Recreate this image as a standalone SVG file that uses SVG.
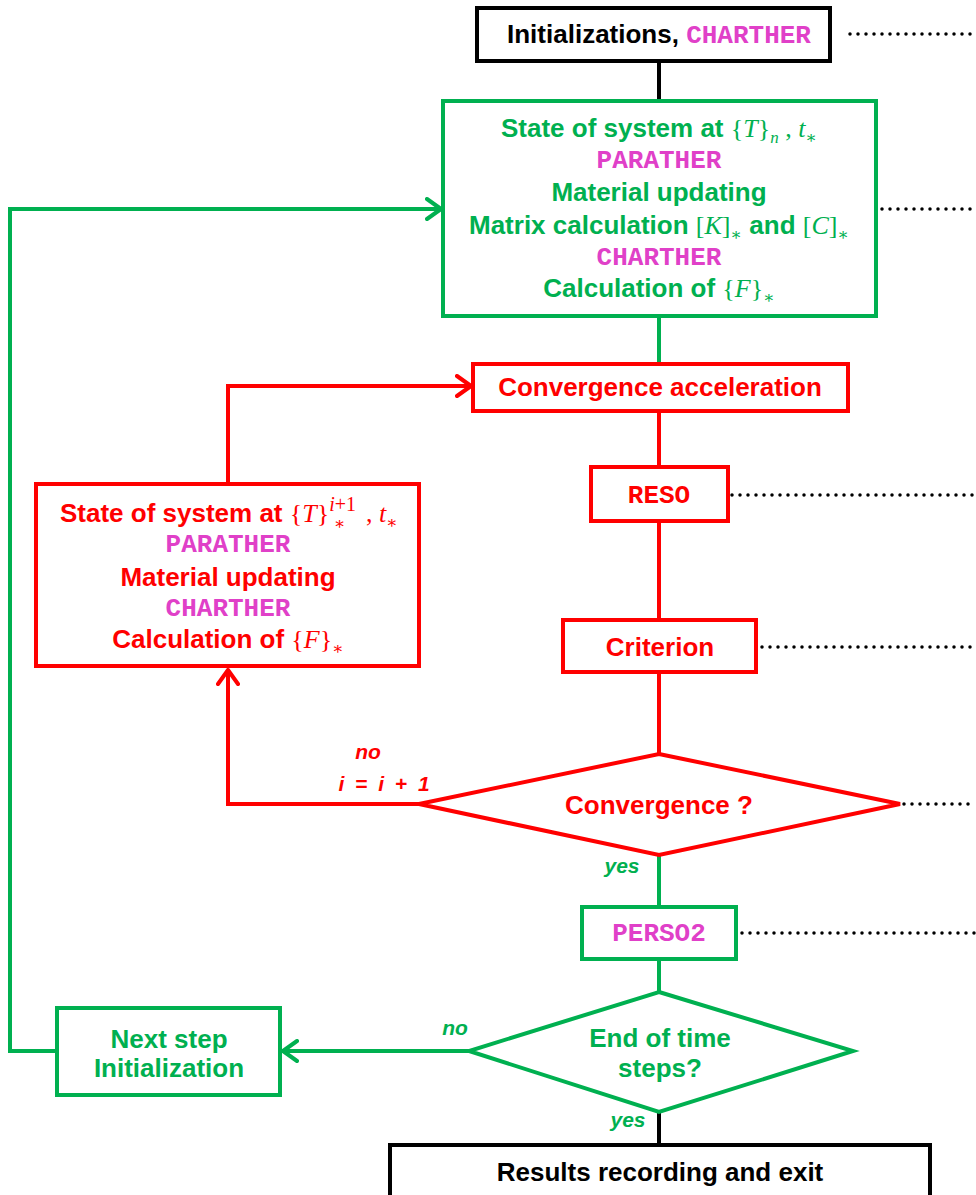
<svg xmlns="http://www.w3.org/2000/svg" width="976" height="1195" viewBox="0 0 976 1195">
<style>
.t{font-family:"Liberation Sans",Arial,sans-serif;font-weight:bold;font-size:26px;text-anchor:middle}
.mono{font-family:"Liberation Mono","Courier New",monospace;font-weight:bold;font-size:26px;fill:#E040C8}
.m{font-family:"Liberation Serif","DejaVu Serif",serif;font-weight:normal}
.i{font-style:italic}
.s{font-size:17px}
.s2{font-size:20px}
.lab{font-family:"Liberation Sans",Arial,sans-serif;font-weight:bold;font-style:italic;font-size:21px}
.g{fill:#00B050}.r{fill:#FF0000}.k{fill:#000}
.bg{fill:#fff;stroke:#00B050;stroke-width:4}
.br{fill:#fff;stroke:#FF0000;stroke-width:4}
.bk{fill:#fff;stroke:#000;stroke-width:4}
.cg{fill:none;stroke:#00B050;stroke-width:4}
.cr{fill:none;stroke:#FF0000;stroke-width:4}
.ck{fill:none;stroke:#000;stroke-width:4}
.dot{fill:none;stroke:#000;stroke-width:3.5;stroke-dasharray:0 8;stroke-linecap:round}
</style>
<defs>
<marker id="ag" viewBox="-16 -12 18 24" refX="0" refY="0" markerWidth="18" markerHeight="24" markerUnits="userSpaceOnUse" orient="auto"><path d="M-14,-10 L0,0 L-14,10" fill="none" stroke="#00B050" stroke-width="4" stroke-linecap="round" stroke-linejoin="round"/></marker>
<marker id="ar" viewBox="-16 -12 18 24" refX="0" refY="0" markerWidth="18" markerHeight="24" markerUnits="userSpaceOnUse" orient="auto"><path d="M-14,-10 L0,0 L-14,10" fill="none" stroke="#FF0000" stroke-width="4" stroke-linecap="round" stroke-linejoin="round"/></marker>
</defs>
<rect width="976" height="1195" fill="#fff"/>
<g id="connectors">
<path class="ck" d="M659,61 V101"/>
<path class="cg" d="M659,316 V364"/>
<path class="cr" d="M659,411 V467"/>
<path class="cr" d="M659,521 V620"/>
<path class="cr" d="M659,672 V754"/>
<path class="cr" d="M419,804 H228 V670" marker-end="url(#ar)"/>
<path class="cr" d="M228,484 V386 H471" marker-end="url(#ar)"/>
<path class="cg" d="M659,855 V907"/>
<path class="cg" d="M659,959 V992"/>
<path class="cg" d="M469,1051 H283" marker-end="url(#ag)"/>
<path class="cg" d="M57,1051 H10 V209 H441" marker-end="url(#ag)"/>
<path class="ck" d="M659,1112 V1145"/>
<path class="dot" d="M850,34 H976"/>
<path class="dot" d="M882,209 H976"/>
<path class="dot" d="M732,495 H976"/>
<path class="dot" d="M762,647 H976"/>
<path class="dot" d="M904,804 H976"/>
<path class="dot" d="M742,933 H976"/>
<text class="lab r" x="368" y="759" text-anchor="middle">no</text>
<text class="lab r" x="384" y="791" text-anchor="middle" word-spacing="5">i = i + 1</text>
<text class="lab g" x="622" y="873" text-anchor="middle">yes</text>
<text class="lab g" x="455" y="1035" text-anchor="middle">no</text>
<text class="lab g" x="628" y="1127" text-anchor="middle">yes</text>
</g>
<g id="init">
<rect class="bk" x="477" y="8" width="353" height="53"/>
<text class="t k" x="659" y="43">Initializations, <tspan class="mono">CHARTHER</tspan></text>
</g>
<g id="state">
<rect class="bg" x="443" y="101" width="433" height="215"/>
<text class="t g" x="659" y="137">State of system at <tspan class="m">{<tspan class="i">T</tspan>}</tspan><tspan class="m i s" dy="6">n</tspan><tspan class="m" dy="-6"> ,  </tspan><tspan class="m i">t</tspan><tspan class="m s" dy="6">∗</tspan></text>
<text class="t mono" x="659" y="168">PARATHER</text>
<text class="t g" x="659" y="201">Material updating</text>
<text class="t g" x="659" y="234">Matrix calculation <tspan class="m">[<tspan class="i">K</tspan>]</tspan><tspan class="m s" dy="6">∗</tspan><tspan dy="-6"> and </tspan><tspan class="m">[<tspan class="i">C</tspan>]</tspan><tspan class="m s" dy="6">∗</tspan></text>
<text class="t mono" x="659" y="265">CHARTHER</text>
<text class="t g" x="659" y="297">Calculation of <tspan class="m">{<tspan class="i">F</tspan>}</tspan><tspan class="m s" dy="6">∗</tspan></text>
</g>
<g id="accel">
<rect class="br" x="473" y="364" width="375" height="47"/>
<text class="t r" x="660" y="396">Convergence acceleration</text>
</g>
<g id="reso">
<rect class="br" x="591" y="467" width="137" height="54"/>
<text class="t mono" x="659" y="503" style="fill:#FF0000">RESO</text>
</g>
<g id="criterion">
<rect class="br" x="563" y="620" width="193" height="52"/>
<text class="t r" x="660" y="656">Criterion</text>
</g>
<g id="convergence">
<polygon class="br" points="659,754 900,804 659,855 419,804"/>
<text class="t r" x="659" y="814">Convergence ?</text>
</g>
<g id="iter">
<rect class="br" x="36" y="484" width="383" height="182"/>
<text class="t r" x="60" y="522" style="text-anchor:start">State of system at <tspan class="m">{<tspan class="i">T</tspan>}</tspan><tspan class="m i s2" dy="-11">i</tspan><tspan class="m s2">+1</tspan><tspan class="m s" x="334" dy="18">∗</tspan><tspan class="m" x="366" dy="-7">, </tspan><tspan class="m i">t</tspan><tspan class="m s" dy="6">∗</tspan></text>
<text class="t mono" x="228" y="552">PARATHER</text>
<text class="t r" x="228" y="586">Material updating</text>
<text class="t mono" x="228" y="616">CHARTHER</text>
<text class="t r" x="228" y="648">Calculation of <tspan class="m">{<tspan class="i">F</tspan>}</tspan><tspan class="m s" dy="6">∗</tspan></text>
</g>
<g id="perso2">
<rect class="bg" x="582" y="907" width="154" height="52"/>
<text class="t mono" x="659" y="941">PERSO2</text>
</g>
<g id="endtime">
<polygon class="bg" points="659,992 853,1051 659,1112 469,1051"/>
<text class="t g" x="660" y="1047">End of time</text>
<text class="t g" x="660" y="1077">steps?</text>
</g>
<g id="nextstep">
<rect class="bg" x="57" y="1008" width="223" height="87"/>
<text class="t g" x="169" y="1048">Next step</text>
<text class="t g" x="169" y="1077">Initialization</text>
</g>
<g id="results">
<rect class="bk" x="390" y="1145" width="540" height="60"/>
<text class="t k" x="660" y="1181">Results recording and exit</text>
</g>
</svg>
